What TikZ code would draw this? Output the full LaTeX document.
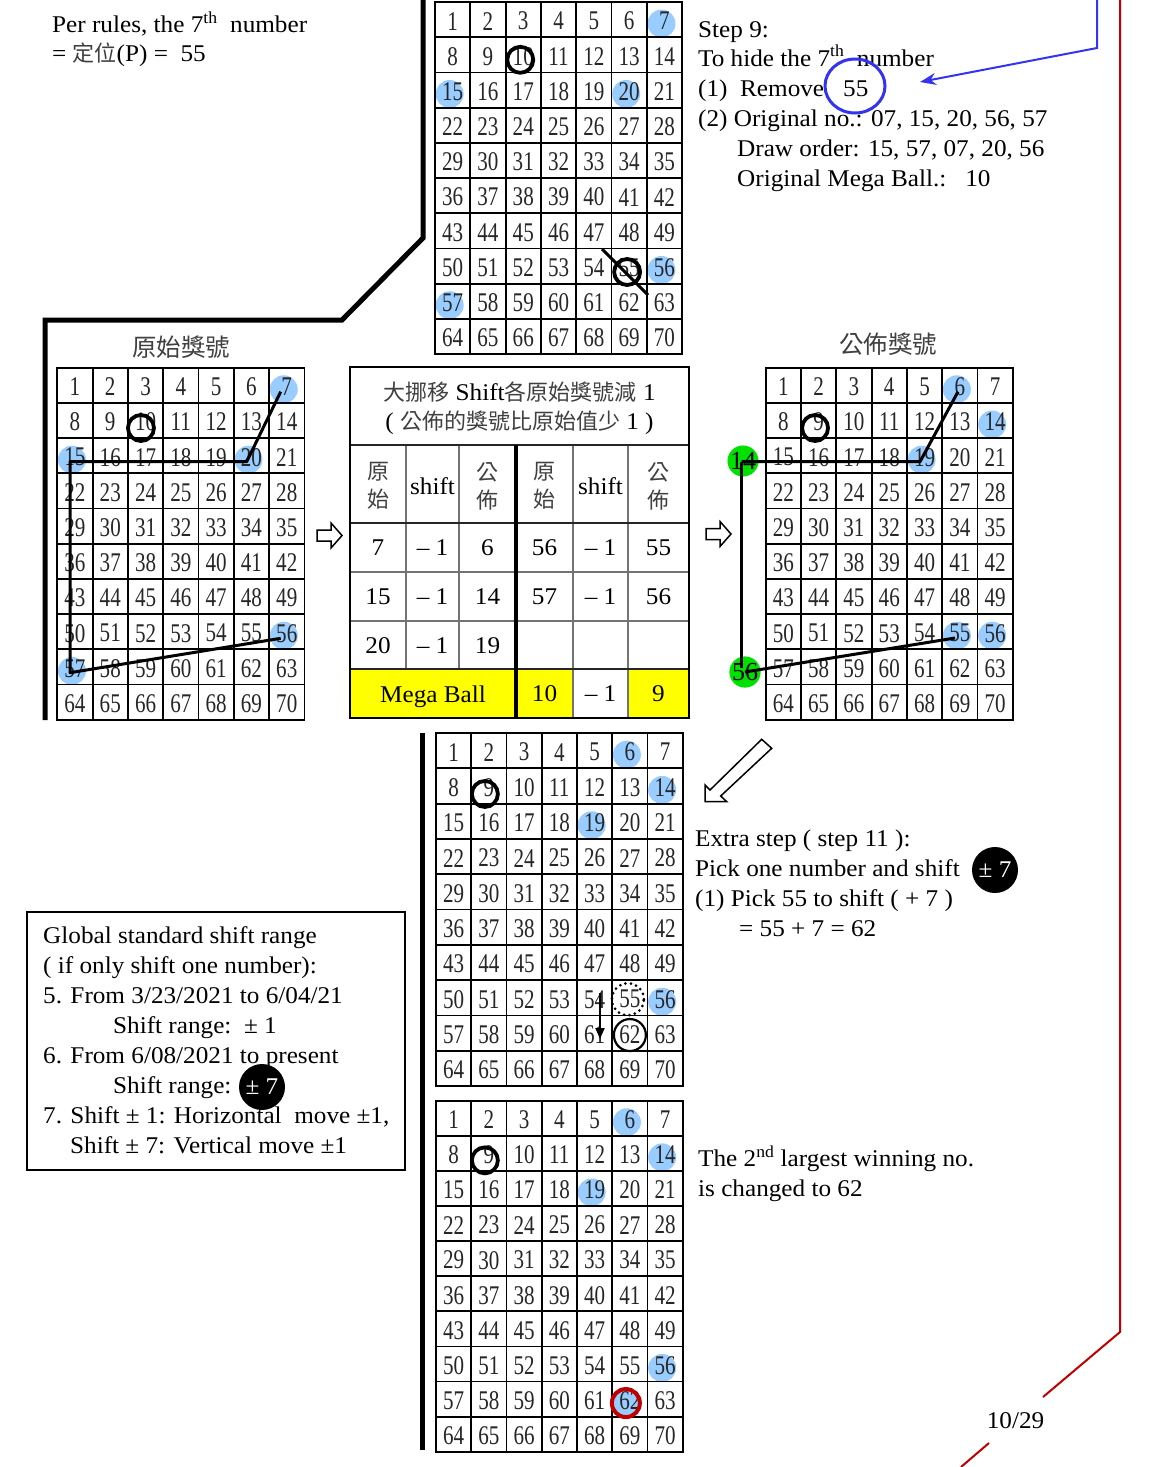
\documentclass[tikz,border=0pt]{standalone}
\usepackage{fontspec}
\setmainfont{Liberation Serif}
\newfontfamily\tfont[FakeStretch=1.05]{Liberation Serif}
\newfontfamily\gfont[FakeStretch=0.78]{Liberation Serif}
\newfontfamily\cjk{Noto Sans CJK TC}
\usetikzlibrary{arrows.meta,shapes.geometric}
\pgfdeclarelayer{bg}
\pgfsetlayers{bg,main}
\definecolor{ballblue}{RGB}{153,204,255}
\definecolor{penblue}{RGB}{51,51,240}
\definecolor{darkred}{RGB}{192,0,0}
\definecolor{ballgreen}{RGB}{0,225,0}
\definecolor{megayellow}{RGB}{255,255,0}
\newcommand\TF{\tfont\fontsize{24}{28}\selectfont}
\newcommand\CJ{\cjk\fontsize{22}{26}\selectfont\color{black!75}}
\newcommand\numgrid[5]{%
  \foreach \gr in {0,...,9}{\foreach \gc in {0,...,6}{%
    \pgfmathtruncatemacro\gn{\gr*7+\gc+1}%
    \node[gnum] (#1-\gn) at ({#2+(\gc+0.5)*#4},{#3+(\gr+0.5)*#5+1.5}) {\gn};}}%
  \foreach \gc in {0,...,7}{\draw[gline] ({#2+\gc*#4},#3) -- ({#2+\gc*#4},{#3+10*#5});}%
  \foreach \gr in {0,...,10}{\draw[gline] ({#2-0.9},{#3+\gr*#5}) -- ({#2+7*#4+0.9},{#3+\gr*#5});}%
}
\newcommand\bball[1]{\fill[ballblue] ([shift={(-3,2.5)}]#1) circle[radius=14pt];}
\newcommand\blockarrow[3]{%
  \draw[line width=1.5pt,fill=white] (#1,#2-5.5) -- (#1+14,#2-5.5) -- (#1+14,#2-12.5) -- (#1+25,#2) -- (#1+14,#2+12.5) -- (#1+14,#2+5.5) -- (#1,#2+5.5) -- cycle;
  \coordinate (#3) at (#1+12,#2);}
\begin{document}
\begin{tikzpicture}[x=1pt,y=-1pt,
  gnum/.style={font=\gfont\fontsize{27}{27}\selectfont, inner sep=0pt, text=black!85},
  gline/.style={line width=1.8pt, black},
  txt/.style={font=\TF, anchor=base west, inner sep=0pt},
  ctxt/.style={font=\TF, anchor=center, inner sep=0pt},
  ring/.style={draw=black, line width=3.8pt},
  thickrule/.style={line width=5pt, black},
  pm/.style={circle, fill=black, text=white, minimum size=46pt, inner sep=0pt, font=\TF},
  tgray/.style={line width=1.2pt, black!55},
  tdark/.style={line width=1.6pt, black!85},
  green/.style={circle, fill=ballgreen, minimum size=29pt, inner sep=0pt, font=\fontsize{26}{26}\selectfont}
]
\useasboundingbox (0,0) rectangle (1156,1467);
\begin{pgfonlayer}{bg}
\fill[white] (0,0) rectangle (1156,1467);
\fill[megayellow] (350,669) rectangle (573,718);
\fill[megayellow] (628,669) rectangle (689,718);
\end{pgfonlayer}

% ---------- grids ----------
\numgrid{T}{435}{2}{35.3}{35.2}
\numgrid{L}{57.3}{367.7}{35.3}{35.2}
\numgrid{R}{765.7}{367.7}{35.3}{35.2}
\numgrid{A}{436}{733}{35.25}{35.3}
\numgrid{B}{436}{1100.7}{35.25}{35.1}

\begin{pgfonlayer}{bg}
\bball{T-7}\bball{T-15}\bball{T-20}\bball{T-56}\bball{T-57}
\bball{L-7}\bball{L-15}\bball{L-20}\bball{L-56}\bball{L-57}
\bball{R-6}\bball{R-14}\bball{R-19}\bball{R-55}\bball{R-56}
\bball{A-6}\bball{A-14}\bball{A-19}\bball{A-56}
\bball{B-6}\bball{B-14}\bball{B-19}\bball{B-56}\bball{B-62}
\end{pgfonlayer}

% ---------- thick brackets ----------
\draw[thickrule] (423,0) -- (423,238) -- (342,320) -- (45,320) -- (45,720);
\draw[thickrule] (422.7,733) -- (422.7,1450);

% ---------- top grid marks ----------
\draw[ring] ([shift={(-3,3.5)}]T-10) circle[radius=13pt];
\draw[ring] ([shift={(-2,4.5)}]T-55) circle[radius=13pt];
\coordinate (sl1) at (602,249);
\coordinate (sl2) at (648,295);
\draw[line width=3pt] (sl1) -- (sl2);

% ---------- left grid path ----------
\draw[ring] ([shift={(-4.6,6)}]L-10) circle[radius=13pt];
\coordinate (lp7) at (280.7,391.7);
\coordinate (lp20) at (246.7,461.7);
\coordinate (lp15) at (70,461.7);
\coordinate (lp57) at (70,672.7);
\coordinate (lp56) at (280.7,638.3);
\draw[line width=3pt, line join=round] (lp7) -- (lp20) -- (lp15) -- (lp57) -- (lp56);
\node[anchor=center, font=\CJ\fontsize{24.5}{26}\selectfont] (ttlL) at (181,347) {原始獎號};

% ---------- right grid path ----------
\draw[ring] ([shift={(-3.6,6)}]R-9) circle[radius=13pt];
\node[green] (g14) at (743,461) {14};
\node[green] (g56) at (745,672) {56};
\coordinate (rp19) at (920,461.7);
\coordinate (rp6) at (958,391.7);
\coordinate (rp55) at (955,638);
\coordinate (rv1) at (741.7,461.7);
\coordinate (rv2) at (741.7,668);
\draw[line width=3pt, line join=round] (rv1) -- (rp19) -- (rp6);
\draw[line width=3pt] (rv1) -- (rv2);
\draw[line width=3pt] (g56.center) -- (rp55);
\node[anchor=center, font=\CJ\fontsize{24.5}{26}\selectfont] (ttlR) at (888,344) {公佈獎號};

% ---------- block arrows ----------
\blockarrow{317}{535.5}{ba1}
\blockarrow{706}{534}{ba2}
\draw[line width=1.5pt, fill=white, line join=miter] (705,801.7) -- (705,785) -- (710,790) -- (761.7,739.3) -- (771.7,748.3) -- (720.7,796) -- (726.7,801.7) -- cycle;

% ---------- table ----------
\draw[tgray] (350,572) -- (689,572);
\draw[tgray] (350,621) -- (689,621);
\draw[tgray] (406,445) -- (406,669);
\draw[tgray] (459,445) -- (459,669);
\draw[tgray] (573,445) -- (573,718);
\draw[tgray] (628,445) -- (628,718);
\draw[tdark] (350,445) -- (689,445);
\draw[tdark] (350,523) -- (689,523);
\draw[tdark] (350,669) -- (689,669);
\draw[line width=3.2pt] (516,445) -- (516,718);
\draw[line width=2pt] (350,367) rectangle (689,718);
\node[ctxt] (th1) at (519.5,392) {{\CJ 大挪移} Shift{\CJ 各原始獎號減} 1};
\node[ctxt] (th2) at (519.5,423) {( {\CJ 公佈的獎號比原始值少} 1 )};
\node[anchor=center, inner sep=0pt, font=\CJ, align=center] (ch1) at (378,486) {原\\[2pt]始};
\node[ctxt] (ch2) at (432.5,486) {shift};
\node[anchor=center, inner sep=0pt, font=\CJ, align=center] (ch3) at (487.5,486) {公\\[2pt]佈};
\node[anchor=center, inner sep=0pt, font=\CJ, align=center] (ch4) at (544.5,486) {原\\[2pt]始};
\node[ctxt] (ch5) at (600.5,486) {shift};
\node[anchor=center, inner sep=0pt, font=\CJ, align=center] (ch6) at (658.5,486) {公\\[2pt]佈};
\node[ctxt] (c11) at (378,548) {7};
\node[ctxt] (c12) at (432.5,548) {– 1};
\node[ctxt] (c13) at (487.5,548) {6};
\node[ctxt] (c14) at (544.5,548) {56};
\node[ctxt] (c15) at (600.5,548) {– 1};
\node[ctxt] (c16) at (658.5,548) {55};
\node[ctxt] (c21) at (378,597) {15};
\node[ctxt] (c22) at (432.5,597) {– 1};
\node[ctxt] (c23) at (487.5,597) {14};
\node[ctxt] (c24) at (544.5,597) {57};
\node[ctxt] (c25) at (600.5,597) {– 1};
\node[ctxt] (c26) at (658.5,597) {56};
\node[ctxt] (c31) at (378,645.5) {20};
\node[ctxt] (c32) at (432.5,645.5) {– 1};
\node[ctxt] (c33) at (487.5,645.5) {19};
\node[txt, anchor=base] (mb) at (433,702) {Mega Ball};
\node[ctxt] (c42) at (544.5,694) {10};
\node[ctxt] (c43) at (600.5,694) {– 1};
\node[ctxt] (c44) at (658.5,694) {9};

% ---------- lower grid 1 marks ----------
\draw[ring] ([shift={(-4,6.5)}]A-9) circle[radius=13pt];
\draw[line width=3pt, dash pattern=on 0pt off 5.5pt, line cap=round] ([shift={(-2,0)}]A-55) circle[radius=16pt];
\draw[line width=2.2pt] ([shift={(0,0.5)}]A-62) circle[radius=16pt];
\coordinate (arA) at (600,993);
\coordinate (arB) at (600,1039);
\draw[line width=2pt, -{Triangle[length=11pt,width=9pt]}] (arA) -- (arB);

% ---------- lower grid 2 marks ----------
\draw[ring] ([shift={(-4,5.5)}]B-9) circle[radius=13pt];
\draw[darkred, line width=4pt] ([shift={(-4,2.5)}]B-62) circle[radius=14pt];

% ---------- texts ----------
\node[txt] (pr1) at (52,32.7) {Per rules, the 7\textsuperscript{th}\ \ number};
\node[txt] (pr2) at (52,61.7) {= {\CJ 定位}(P) =\ \ 55};

\node[txt] (s9a) at (698,37) {Step 9:};
\node[txt] (s9b) at (698,66) {To hide the 7\textsuperscript{th}\ \ number};
\node[txt] (s9c) at (698,96.5) {(1)\ \ Remove};
\node[txt] (s9n) at (843,96.5) {55};
\node[txt] (s9d) at (698,126.5) {(2) Original no.: 07, 15, 20, 56, 57};
\node[txt] (s9e) at (737,156.5) {Draw order: 15, 57, 07, 20, 56};
\node[txt] (s9f) at (737,186) {Original Mega Ball.:\ \ \ 10};
\node[draw=penblue, line width=3pt, ellipse, minimum width=60pt, minimum height=54pt, inner sep=0pt] (ring55) at (855,86) {};
\coordinate (bA) at (1097,0);
\coordinate (bB) at (1097,48);
\coordinate (bC) at (920,82);
\draw[penblue, line width=2pt, -{Stealth[length=16pt,width=12pt]}] (bA) -- (bB) -- (bC);

\draw[darkred, line width=2pt] (1120,0) -- (1120,1332) -- (1043,1397);
\draw[darkred, line width=2pt] (989,1443) -- (961,1467);
\node[txt, anchor=base] (pg) at (1015.5,1428) {10/29};

% left box
\draw[line width=2.5pt] (27,912) rectangle (405,1170);
\node[txt] (gb1) at (43,943) {Global standard shift range};
\node[txt] (gb2) at (43,973) {( if only shift one number):};
\node[txt] (gb3) at (43,1003) {5. From 3/23/2021 to 6/04/21};
\node[txt] (gb4) at (113,1033) {Shift range:\ \ ± 1};
\node[txt] (gb5) at (43,1063) {6. From 6/08/2021 to present};
\node[txt] (gb6) at (113,1093) {Shift range:};
\node[txt] (gb7) at (43,1123) {7. Shift ± 1: Horizontal\ \ move ±1,};
\node[txt] (gb8) at (70,1153) {Shift ± 7: Vertical move ±1};
\node[pm] (pm1) at (262,1087) {± 7};

% extra step
\node[txt] (ex1) at (695,846.7) {Extra step ( step 11 ):};
\node[txt] (ex2) at (695,876.7) {Pick one number and shift};
\node[txt] (ex3) at (695,906.7) {(1) Pick 55 to shift ( + 7 )};
\node[txt] (ex4) at (739,936.7) {= 55 + 7 = 62};
\node[pm] (pm2) at (995,870) {± 7};

% second largest
\node[txt] (nd1) at (698,1166.7) {The 2\textsuperscript{nd} largest winning no.};
\node[txt] (nd2) at (698,1196.7) {is changed to 62};
\end{tikzpicture}
\end{document}
